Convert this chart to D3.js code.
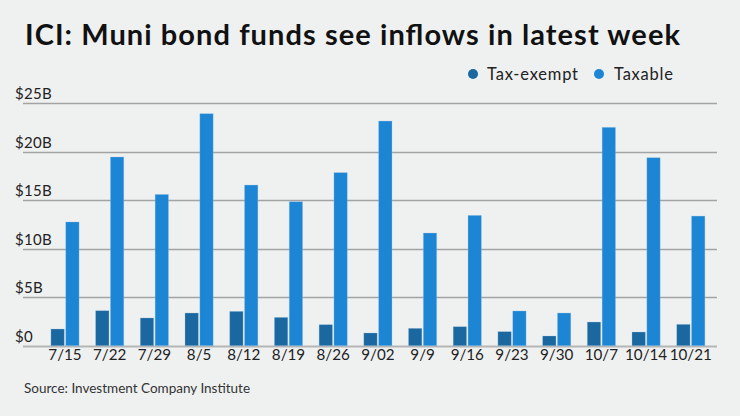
<!DOCTYPE html>
<html>
<head>
<meta charset="utf-8">
<title>ICI muni bond funds</title>
<script src="https://cdn.jsdelivr.net/npm/d3@7"></script>
<style>
  html, body { margin: 0; padding: 0; background: #eff1f1; }
  svg { display: block; font-family: Lato, "Open Sans", sans-serif; }
</style>
</head>
<body>
<script>
// weeks and flows ($B)
var weeks = ["7/15","7/22","7/29","8/5","8/12","8/19","8/26","9/02","9/9","9/16","9/23","9/30","10/7","10/14","10/21"];
var taxExempt = [1.72,3.61,2.86,3.37,3.54,2.92,2.17,1.31,1.79,1.96,1.45,1.0,2.44,1.41,2.2];
var taxable = [12.76,19.46,15.6,23.93,16.57,14.85,17.85,23.17,11.62,13.44,3.58,3.37,22.52,19.39,13.37];
var seriesNames = ["Tax-exempt","Taxable"];
var yTicks = [0,5,10,15,20,25];

var W = 740, H = 416;
var colors = { "Tax-exempt": "#1b679f", "Taxable": "#1d86d4" };

var svg = d3.select("body").append("svg")
  .attr("width", W)
  .attr("height", H);

svg.append("rect").attr("width", W).attr("height", H).attr("fill", "#eff1f1");

// title
svg.append("text")
  .attr("x", 25).attr("y", 45)
  .attr("font-size", 29)
  .attr("font-weight", 700)
  .attr("fill", "#111")
  .attr("textLength", 655)
  .attr("lengthAdjust", "spacing")
  .text("ICI: Muni bond funds see inflows in latest week");

// legend
var legendPos = [{x: 473, tx: 487, w: 91}, {x: 599, tx: 614, w: 59}];
seriesNames.forEach(function(s, i){
  svg.append("circle")
    .attr("cx", legendPos[i].x).attr("cy", 74).attr("r", 5)
    .attr("fill", colors[s]);
  svg.append("text")
    .attr("x", legendPos[i].tx).attr("y", 80)
    .attr("font-size", 16.5)
    .attr("fill", "#222")
    .attr("textLength", legendPos[i].w)
    .attr("lengthAdjust", "spacing")
    .text(s);
});

// scales
var y = d3.scaleLinear().domain([0, 25]).range([345.7, 103.3]);

var x = d3.scaleBand()
  .domain(weeks)
  .range([42.65, 713.15])
  .paddingInner(0.37)
  .paddingOuter(0.185);

var xSub = d3.scaleBand()
  .domain(seriesNames)
  .range([0, x.bandwidth()])
  .paddingInner(0.1);

// grid lines + labels
var grid = svg.append("g");
grid.selectAll("line").data(yTicks).enter().append("line")
  .attr("x1", 23).attr("x2", 717)
  .attr("y1", function(d){ return Math.round(y(d)) + 0.5; })
  .attr("y2", function(d){ return Math.round(y(d)) + 0.5; })
  .attr("stroke", function(d){ return d == 0 ? "#b5b5b5" : "#a3a3a3"; })
  .attr("stroke-width", function(d){ return d == 0 ? 2 : 1.3; });

grid.selectAll("text").data(yTicks).enter().append("text")
  .attr("x", 15)
  .attr("y", function(d){ return y(d) - 4; })
  .attr("font-size", 15)
  .attr("letter-spacing", 0.3)
  .attr("fill", "#222")
  .text(function(d){ return d == 0 ? "$0" : "$" + d + "B"; });

// bars
var rows = weeks.map(function(w, i){
  return { week: w, vals: [
    { key: "Tax-exempt", v: taxExempt[i] },
    { key: "Taxable", v: taxable[i] }
  ]};
});

var groups = svg.selectAll(".grp").data(rows).enter().append("g")
  .attr("class", "grp")
  .attr("transform", function(d){ return "translate(" + x(d.week) + ",0)"; });

groups.selectAll("rect").data(function(d){ return d.vals; }).enter().append("rect")
  .attr("x", function(d){ return xSub(d.key); })
  .attr("y", function(d){ return y(d.v); })
  .attr("width", xSub.bandwidth())
  .attr("height", function(d){ return y(0) - y(d.v); })
  .attr("fill", function(d){ return colors[d.key]; })
  .attr("stroke", "#9cc6e6")
  .attr("stroke-opacity", 0.35)
  .attr("stroke-width", 0.8);

// x labels
svg.append("g").selectAll("text").data(weeks).enter().append("text")
  .attr("x", function(d){ return x(d) + x.bandwidth() / 2; })
  .attr("y", 359.5)
  .attr("text-anchor", "middle")
  .attr("font-size", 15.2)
  .attr("fill", "#222")
  .text(function(d){ return d; });

// source
svg.append("text")
  .attr("x", 24).attr("y", 393)
  .attr("font-size", 13.5)
  .attr("fill", "#333")
  .text("Source: Investment Company Institute");
</script>
</body>
</html>
